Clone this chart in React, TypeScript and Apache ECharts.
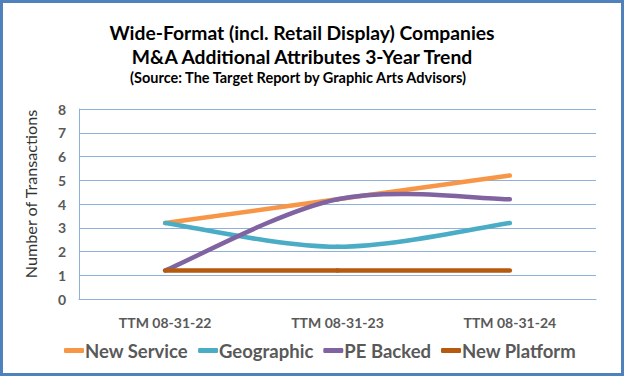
import React, { useEffect, useRef } from "react";
import * as echarts from "echarts";

const categories = ["TTM 08-31-22", "TTM 08-31-23", "TTM 08-31-24"];
const newService = [3.2, 4.2, 5.2];
const geographic = [3.2, 2.2, 3.2];
const peBacked = [1.2, 4.2, 4.2];
const newPlatform = [1.2, 1.2, 1.2];
const seriesNames = ["New Service", "Geographic", "PE Backed", "New Platform"];
const seriesColors = ["#F79646", "#4BACC6", "#8064A2", "#B65A0E"];
const yTicks = { min: 0, max: 8, interval: 1 };

const FONT = "Lato, 'Open Sans', sans-serif";
const TENSION = 1 / 6;

function makeRender(values: number[], color: string) {
  return (params: any, api: any) => {
    const i = params.dataIndex;
    const n = values.length;
    if (i >= n - 1) return { type: "group", children: [] };
    const P = (j: number) => {
      const k = Math.max(0, Math.min(n - 1, j));
      return api.coord([k, values[k]]);
    };
    const p0 = P(i - 1);
    const p1 = P(i);
    const p2 = P(i + 1);
    const p3 = P(i + 2);
    return {
      type: "bezierCurve",
      shape: {
        x1: p1[0],
        y1: p1[1],
        x2: p2[0],
        y2: p2[1],
        cpx1: p1[0] + (p2[0] - p0[0]) * TENSION,
        cpy1: p1[1] + (p2[1] - p0[1]) * TENSION,
        cpx2: p2[0] - (p3[0] - p1[0]) * TENSION,
        cpy2: p2[1] - (p3[1] - p1[1]) * TENSION,
      },
      style: { stroke: color, lineWidth: 4.5, fill: "none", lineCap: "round" },
    };
  };
}

export default function App() {
  const ref = useRef<HTMLDivElement>(null);
  useEffect(() => {
    if (!ref.current) return;
    const chart = echarts.init(ref.current, null, { renderer: "svg" });
    const data = [newService, geographic, peBacked, newPlatform];
    chart.setOption({
      animation: false,
      backgroundColor: "#ffffff",
      title: [
        {
          text: "Wide-Format (incl. Retail Display) Companies\nM&A Additional Attributes 3-Year Trend",
          left: 302,
          textAlign: "center",
          top: 20,
          padding: 0,
          textStyle: {
            fontFamily: FONT,
            fontWeight: "bold",
            fontSize: 19.3,
            lineHeight: 24.5,
            color: "#000000",
          },
        },
        {
          text: "(Source: The Target Report by Graphic Arts Advisors)",
          left: 298,
          textAlign: "center",
          top: 70,
          padding: 0,
          textStyle: {
            fontFamily: FONT,
            fontWeight: "bold",
            fontSize: 14.5,
            lineHeight: 15,
            color: "#000000",
          },
        },
      ],
      graphic: [
        {
          type: "rect",
          shape: { x: 1.5, y: 1.5, width: 621, height: 373 },
          style: { fill: "none", stroke: "#4F81BD", lineWidth: 3 },
          silent: true,
        },
        {
          type: "text",
          x: 30,
          y: 194,
          rotation: Math.PI / 2,
          style: {
            text: "Number of Transactions",
            fontFamily: FONT,
            fontSize: 16.2,
            fill: "#333333",
            align: "center",
            verticalAlign: "middle",
          },
        },
      ],
      legend: {
        left: 64,
        top: 341,
        padding: 0,
        itemWidth: 20,
        itemHeight: 5,
        itemGap: 10,
        icon: "roundRect",
        data: seriesNames,
        textStyle: {
          fontFamily: FONT,
          fontWeight: "bold",
          fontSize: 18.5,
          color: "#595959",
          padding: [0, 0, 0, -4],
        },
      },
      grid: { left: 79, right: 28, top: 109, bottom: 77, containLabel: false },
      xAxis: {
        type: "category",
        data: categories,
        boundaryGap: true,
        axisLine: { show: true, lineStyle: { color: "#8FB0DA", width: 1 } },
        axisTick: { show: false },
        axisLabel: {
          fontFamily: FONT,
          fontWeight: "bold",
          fontSize: 14,
          color: "#595959",
          margin: 16,
        },
      },
      yAxis: {
        type: "value",
        min: yTicks.min,
        max: yTicks.max,
        interval: yTicks.interval,
        axisLine: { show: true, lineStyle: { color: "#8FB0DA", width: 1 } },
        axisTick: { show: false },
        splitLine: { lineStyle: { color: "#8FB0DA", width: 1 } },
        axisLabel: {
          fontFamily: FONT,
          fontWeight: "bold",
          fontSize: 14,
          color: "#595959",
          margin: 13,
        },
      },
      series: seriesNames.map((name, i) => ({
        name,
        type: "custom",
        data: data[i].map((v, j) => [j, v]),
        encode: { x: 0, y: 1 },
        renderItem: makeRender(data[i], seriesColors[i]),
        itemStyle: { color: seriesColors[i] },
        z: 10 + i,
      })),
    });
    return () => chart.dispose();
  }, []);
  return (
    <div
      ref={ref}
      style={{ position: "absolute", left: 0, top: 0, width: 624, height: 376 }}
    />
  );
}
